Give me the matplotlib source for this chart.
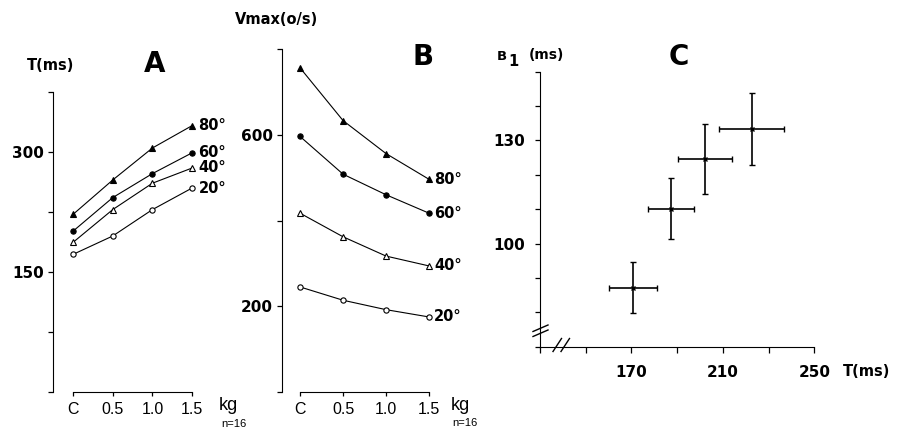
import matplotlib.pyplot as plt

# --- data ---
loads = ['C', '0.5', '1.0', '1.5']
angles = ['80°', '60°', '40°', '20°']
markers = ['^', 'o', '^', 'o']
filled = [True, True, False, False]

# A: T(ms) vs load
t_80 = [222, 265, 305, 333]
t_60 = [201, 243, 273, 299]
t_40 = [187, 228, 261, 280]
t_20 = [172, 195, 228, 255]

# B: Vmax(o/s) vs load
v_80 = [756, 633, 556, 496]
v_60 = [596, 508, 460, 417]
v_40 = [417, 362, 317, 294]
v_20 = [245, 214, 192, 175]

# C: B1 vs T, with sd bars
c_t = [170.7, 187.4, 202.2, 222.6]
c_t_err = [10.4, 10.0, 12.0, 14.2]
c_b1 = [87.2, 110.2, 124.7, 133.4]
c_b1_err = [7.5, 8.9, 10.2, 10.4]

W, H = 899, 430
narrow = ['Liberation Sans', 'DejaVu Sans']

fig = plt.figure(figsize=(W / 100, H / 100), dpi=100)


def figtext(x, y, s, **kw):
    # x, y in pixels from the top-left corner
    fig.text(x / W, 1 - y / H, s, **kw)


def load_panel(ax, series, yticks, ylabels, lab_dx):
    x = list(range(len(loads)))
    for vals, m, f, a in zip(series, markers, filled, angles):
        ax.plot(x, vals, color='k', lw=0.8, marker=m, ms=3.8,
                mfc='k' if f else 'white', mec='k', mew=0.8)
        ax.annotate(a, (x[-1], vals[-1]), xytext=(lab_dx, 0),
                    textcoords='offset points', va='center', ha='left',
                    fontsize=10.5, fontweight='bold')
    ax.set_xticks(x)
    ax.set_xticklabels(loads, family=narrow, fontsize=11.5)
    ax.set_yticks(yticks)
    ax.set_yticklabels(ylabels, fontweight='bold', fontsize=11)
    ax.set_ylim(yticks[0], yticks[-1])
    for s in ['top', 'right']:
        ax.spines[s].set_visible(False)
    ax.spines['bottom'].set_bounds(0, 3)
    ax.tick_params(axis='y', length=3.5, width=0.9, pad=3)
    ax.tick_params(axis='x', length=3, width=0.9, pad=4)
    ax.set_facecolor('none')


# panel A
axA = fig.add_axes([53 / W, 38 / H, 159 / W, 300 / H])
axA.set_xlim(-0.504, 3.5)
load_panel(axA, [t_80, t_60, t_40, t_20], [0, 75, 150, 225, 300, 375],
           ['', '', '150', '', '300', ''], 4.5)

# panel B
axB = fig.add_axes([282 / W, 38 / H, 168.6 / W, 343 / H])
axB.set_xlim(-0.42, 3.5)
load_panel(axB, [v_80, v_60, v_40, v_20], [0, 200, 400, 600, 800],
           ['', '200', '', '600', ''], 3.5)

# panel C
axC = fig.add_axes([540 / W, (H - 346.7) / H, 274.3 / W, 275 / H])
axC.errorbar(c_t, c_b1, xerr=c_t_err, yerr=c_b1_err, fmt='x', color='k',
             ms=3, mew=1.0, capsize=2.5, elinewidth=1.2, capthick=1.2)
axC.set_xlim(130, 250)
axC.set_ylim(70, 150)
axC.set_xticks([130, 150, 170, 190, 210, 230, 250])
axC.set_xticklabels(['', '', '170', '', '210', '', '250'],
                    fontweight='bold', fontsize=11)
axC.set_yticks(range(70, 151, 10))
axC.set_yticklabels(['', '', '', '100', '', '', '130', '', ''],
                    fontweight='bold', fontsize=11)
for s in ['top', 'right']:
    axC.spines[s].set_visible(False)
axC.tick_params(axis='x', length=4, width=0.9, pad=9)
axC.tick_params(axis='y', length=3.5, width=0.9, pad=7)
axC.set_facecolor('none')

# axis break marks on panel C
def px(xp, yp):
    return ((xp - 540) / 274.3, (346.7 - yp) / 275)

for (x0, y0), (x1, y1) in [((533, 331.5), (548, 325)), ((533, 336.5), (548, 330)),
                           ((553, 351.5), (561.5, 338.5)), ((561, 351.5), (569.5, 338.5))]:
    a, b = px(x0, y0)
    c, d = px(x1, y1)
    axC.plot([a, c], [b, d], color='k', lw=1.0, transform=axC.transAxes,
             clip_on=False)

# labels
figtext(27, 65, 'T(ms)', fontsize=10.5, fontweight='bold', va='center')
figtext(155, 64, 'A', fontsize=20, fontweight='bold', ha='center', va='center')
figtext(235, 20, 'Vmax(o/s)', fontsize=10.5, fontweight='bold', va='center')
figtext(423, 57, 'B', fontsize=20, fontweight='bold', ha='center', va='center')
figtext(497, 56, 'B', fontsize=9.5, fontweight='bold', va='center')
figtext(508, 61, '1', fontsize=10.5, fontweight='bold', va='center')
figtext(529, 55, '(ms)', fontsize=10, fontweight='bold', va='center')
figtext(679, 57, 'C', fontsize=20, fontweight='bold', ha='center', va='center')
figtext(843, 372, 'T(ms)', fontsize=10.5, fontweight='bold', va='center')

figtext(219, 406, 'kg', family=narrow, fontsize=13, va='center')
figtext(221, 424, 'n=16', family=narrow, fontsize=8, va='center')
figtext(451, 405, 'kg', family=narrow, fontsize=13, va='center')
figtext(452, 423, 'n=16', family=narrow, fontsize=8, va='center')

fig.savefig('out.png', dpi=100)
